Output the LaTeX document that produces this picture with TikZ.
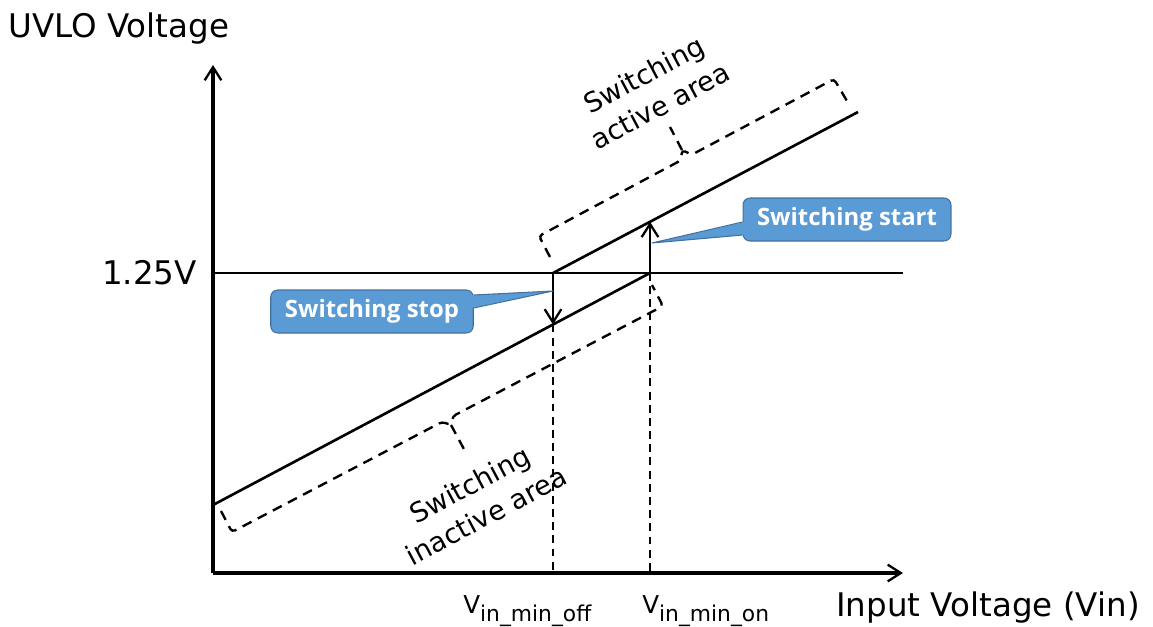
\documentclass[tikz,border=0pt]{standalone}
\usepackage{fontspec}
\setmainfont{DejaVu Sans}
\newfontfamily\calloutfont{Open Sans}
\usepackage{tikz}
\usetikzlibrary{calc}
\usetikzlibrary{arrows.meta}
\usetikzlibrary{positioning}
\definecolor{callfill}{HTML}{5B9BD5}
\definecolor{callline}{HTML}{41719C}
\tikzset{>={Straight Barb[length=7.5pt, width=9.5pt, line width=1.3pt]}}
\tikzstyle{axis} = [->, line width = 1.9pt]
\tikzstyle{curve} = [-, line width = 1.5pt]
\tikzstyle{jump} = [->, line width = 1.5pt]
\tikzstyle{guide} = [-, line width = .85pt, dash pattern = on 4.5pt off 3pt]
\tikzstyle{bracket} = [-, line width = 1.35pt, dash pattern = on 5.7pt off 4pt, rounded corners = 2pt]
\tikzstyle{callout} = [draw = callline, fill = callfill, line width = .6pt, rounded corners = 4pt,
  minimum width = 4.05cm, minimum height = .86cm, inner sep = 0, text = white,
  font = \calloutfont\bfseries\fontsize{13.6}{16}\selectfont]
\tikzstyle{big} = [draw = none, inner sep = 0, font = \fontsize{18.5}{22}\selectfont]
\tikzstyle{area} = [draw = none, inner sep = 0, align = center, rotate = 28,
  font = \fontsize{15.5}{20}\selectfont]

\begin{document}
\begin{tikzpicture}[x = .02cm, y = -.02cm]
\useasboundingbox (0, 0) rectangle (1153, 626);
% axes and reference level
\coordinate (o) at (213, 573);
\coordinate (ytip) at (213, 65);
\coordinate (xtip) at (903, 573);
\coordinate (ref0) at (213, 273);
\coordinate (ref1) at (903, 273);
\draw [axis] (o) to (ytip);
\draw [axis] (o) to (xtip);
\draw [curve, line width = 1.4pt] (ref0) to (ref1);
% the two thresholds
\coordinate (lo0) at (213, 505);
\coordinate (lo1) at (650, 273);
\coordinate (hi0) at (553, 273);
\coordinate (hi1) at (858, 112);
\coordinate (offlow) at (553, 324.5);
\coordinate (onhigh) at (650, 221.8);
\coordinate (offbase) at (553, 573);
\coordinate (onbase) at (650, 573);
\draw [curve] (lo0) to (lo1);
\draw [curve] (hi0) to (hi1);
\draw [jump] (hi0) to (offlow);
\draw [jump] (lo1) to (onhigh);
\draw [guide] (offlow) to (offbase);
\draw [guide] (lo1) to (onbase);
% dashed brackets
\draw [bracket] (550, 257) -- (539, 236) -- (681, 160.3) -- (682, 150) -- (691.8, 154.7) -- (834, 79) -- (847, 101);
\draw [bracket] (682, 150) -- (670, 127);
\draw [bracket] (221, 511) -- (232, 532) -- (442.2, 421.8) -- (451, 425) -- (452.8, 416.2) -- (663, 306) -- (652, 285);
\draw [bracket] (451, 425) -- (465, 451);
\node [area] (act) at (652, 90) {Switching\\active area};
\node [area] (inact) at (478, 500) {Switching\\inactive area};
% labels
\node [big, anchor = base west] (ylab) at (8, 37) {UVLO Voltage};
\node [big, anchor = base east] (lvl) at (197, 284) {1.25V};
\node [big, anchor = base west] (xlab) at (836, 616) {Input Voltage (Vin)};
\node [draw = none, inner sep = 0, anchor = base west, font = \fontsize{14}{17}\selectfont] (voff) at (463, 613)
  {V\raisebox{-5pt}{\fontsize{12.4}{15}\selectfont in\_min\_off}};
\node [draw = none, inner sep = 0, anchor = base west, font = \fontsize{14}{17}\selectfont] (von) at (642, 613)
  {V\raisebox{-5pt}{\fontsize{12.4}{15}\selectfont in\_min\_on}};
% callouts
\node [callout] (stop) at (372, 311.5) {Switching stop};
\node [callout, minimum width = 4.16cm] (start) at (847, 219.5) {Switching start};
\coordinate (stoptip) at (553, 291);
\coordinate (starttip) at (652, 243);
\fill [callfill] ($(stop.east) + (-2, -16.5)$) -- (stoptip) -- ($(stop.east) + (-2, -3.5)$) -- cycle;
\draw [callline, line width = .6pt] ($(stop.east) + (0, -16.5)$) -- (stoptip) -- ($(stop.east) + (0, -3.5)$);
\fill [callfill] ($(start.west) + (2, 2.5)$) -- (starttip) -- ($(start.west) + (2, 15.5)$) -- cycle;
\draw [callline, line width = .6pt] ($(start.west) + (0, 2.5)$) -- (starttip) -- ($(start.west) + (0, 15.5)$);
\end{tikzpicture}
\end{document}
